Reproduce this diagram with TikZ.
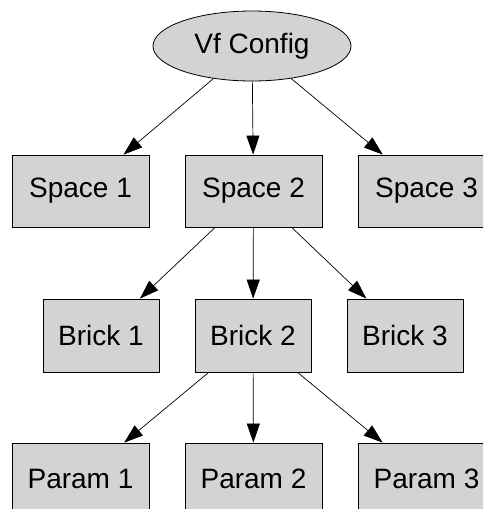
\documentclass[tikz,border=0pt]{standalone}
\usepackage{fontspec}
\setmainfont{Liberation Sans}
\usetikzlibrary{shapes.geometric,arrows.meta}
\definecolor{boxgray}{HTML}{D3D3D3}
\tikzset{
  gnode/.style={draw=black, fill=boxgray, line width=0.8pt, inner sep=0pt, font=\fontsize{28}{30}\selectfont},
  wide/.style={gnode, rectangle, minimum width=137pt, minimum height=72pt},
  brick/.style={gnode, rectangle, minimum width=116pt, minimum height=73pt},
  oval/.style={gnode, ellipse, minimum width=198pt, minimum height=70pt},
  edge/.style={draw=black, line width=0.7pt, -{Triangle[length=19pt,width=13pt]}}
}
\begin{document}
\begin{tikzpicture}[x=1pt,y=-1pt]
\useasboundingbox (0,0) rectangle (483,509);
\clip (0,0) rectangle (483,509);
\node[oval] (vf) at (252,46) {Vf Config};
\node[wide] (s1) at (80.5,191) {Space 1};
\node[wide] (s2) at (253.5,191) {Space 2};
\node[wide] (s3) at (426.5,191) {Space 3};
\node[brick] (b1) at (101,335.5) {Brick 1};
\node[brick] (b2) at (253,335.5) {Brick 2};
\node[brick] (b3) at (405,335.5) {Brick 3};
\node[wide] (p1) at (80.5,479) {Param 1};
\node[wide] (p2) at (253.5,479) {Param 2};
\node[wide] (p3) at (426.5,479) {Param 3};
\draw[edge] (vf) -- (s1);
\draw[edge] (vf) -- (s2);
\draw[edge] (vf) -- (s3);
\draw[edge] (s2) -- (b1);
\draw[edge] (s2) -- (b2);
\draw[edge] (s2) -- (b3);
\draw[edge] (b2) -- (p1);
\draw[edge] (b2) -- (p2);
\draw[edge] (b2) -- (p3);
\end{tikzpicture}
\end{document}
